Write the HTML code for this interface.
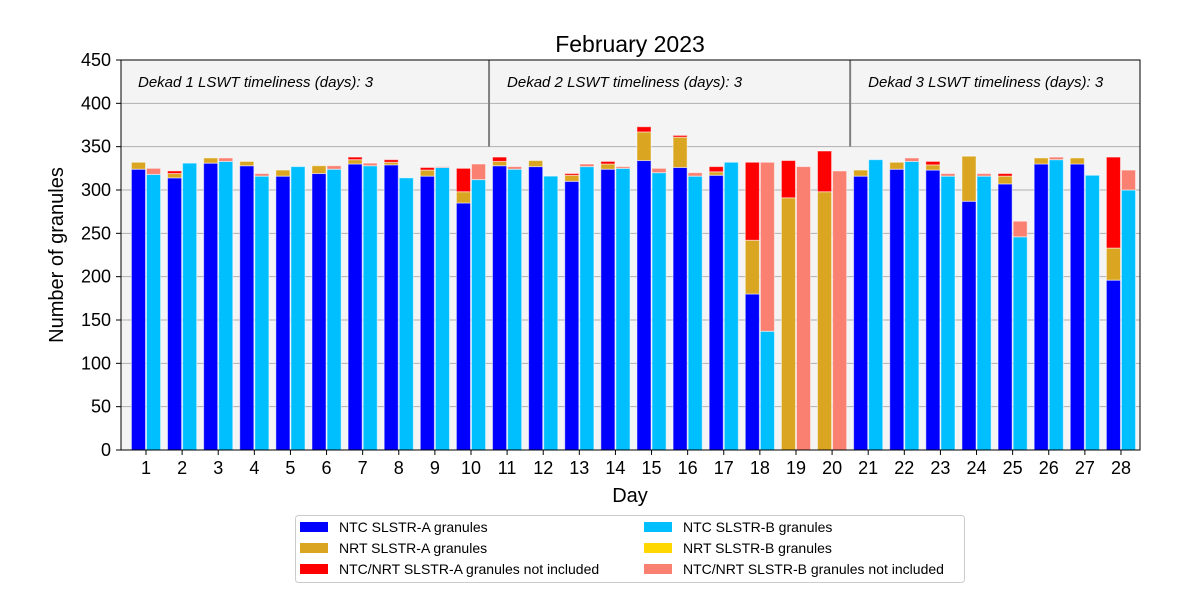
<!DOCTYPE html>
<html><head><meta charset="utf-8"><style>
body{margin:0;background:#fff;font-family:"Liberation Sans",sans-serif}
svg text{font-family:"Liberation Sans",sans-serif}
</style></head><body>
<svg id="c" width="1200" height="600" xmlns="http://www.w3.org/2000/svg">
<rect x="121" y="60" width="1019" height="390" fill="#f4f4f4"/>
<g id="grid"></g><g id="bars"></g><g id="axes"></g>
<text x="630" y="52" font-size="23" text-anchor="middle">February 2023</text>
<text x="630" y="502" font-size="20" text-anchor="middle">Day</text>
<text transform="translate(63,255) rotate(-90)" font-size="20" text-anchor="middle">Number of granules</text>
<g id="legend"></g>
</svg>
<script>
const days=[1,2,3,4,5,6,7,8,9,10,11,12,13,14,15,16,17,18,19,20,21,22,23,24,25,26,27,28];
const ntcA=[324,314,331,328,316,319,330,329,316,285,328,327,310,324,334,326,317,180,0,0,316,324,323,287,307,330,330,196];
const nrtA=[8,5,6,5,7,9,5,3,7,13,5,7,7,6,33,35,4,62,291,298,7,8,6,52,9,7,7,37];
const missA=[0,3,0,0,0,0,3,3,3,27,5,0,2,3,6,2,6,90,43,47,0,0,4,0,3,0,0,105];
const ntcB=[318,331,333,316,327,324,328,314,326,312,324,316,327,325,320,316,332,137,0,0,335,333,316,316,246,335,317,300];
const nrtB=[0,0,0,0,0,0,0,0,0,0,0,0,0,0,0,0,0,0,0,0,0,0,0,0,0,0,0,0];
const missB=[7,0,4,3,0,4,3,0,1,18,3,0,3,2,5,4,0,195,327,322,0,4,3,3,18,3,0,23];
const yTicks=[0,50,100,150,200,250,300,350,400,450];
const dekads=["Dekad 1 LSWT timeliness (days): 3","Dekad 2 LSWT timeliness (days): 3","Dekad 3 LSWT timeliness (days): 3"];
const NS="http://www.w3.org/2000/svg";
const X=d=>146+(d-1)*36.11, Y=v=>450-v*390/450;
function mk(tag,attrs,parent,txt){const e=document.createElementNS(NS,tag);for(const k in attrs)e.setAttribute(k,attrs[k]);if(txt!==undefined)e.textContent=txt;parent.appendChild(e);return e;}
const grid=document.getElementById('grid'),bars=document.getElementById('bars'),axes=document.getElementById('axes'),leg=document.getElementById('legend');
yTicks.forEach(t=>{
 if(t>0&&t<450){const l=mk('line',{x1:121,x2:1140,y1:Y(t),y2:Y(t),stroke:'#b0b0b0','stroke-width':1},grid);
 
 }
 mk('line',{x1:116,x2:121,y1:Y(t),y2:Y(t),stroke:'#000'},axes);
 const tx=mk('text',{x:111,y:Y(t)+6,'font-size':18,'text-anchor':'end'},axes,t);
 
 
});
[10.5,20.5].forEach(d=>{const l=mk('line',{x1:X(d),x2:X(d),y1:60,y2:Y(350),stroke:'#808080','stroke-width':2},grid);
 
 });
[1,10.5,20.5].forEach((d,i)=>{const t=mk('text',{x:i==0?138:X(d)+18,y:87,'font-size':15,'font-style':'italic'},grid,dekads[i]);
 
 });
const w=0.39*36.11;
function seg(x,v0,v1,col,name){if(v1<=v0)return;const r=mk('rect',{x:x,y:Y(v1),width:w,height:Y(v0)-Y(v1),fill:col,stroke:'#ffffff','stroke-opacity':0.5,'stroke-width':1},bars);
 
 }
days.forEach((d,i)=>{
 const xa=X(d)-w-0.5, xb=X(d)+0.5;
 seg(xa,0,ntcA[i],'#0000ff','bar-ntc-a');
 seg(xa,ntcA[i],ntcA[i]+nrtA[i],'#daa520','bar-nrt-a');
 seg(xa,ntcA[i]+nrtA[i],ntcA[i]+nrtA[i]+missA[i],'#ff0000','bar-missing-a');
 seg(xb,0,ntcB[i],'#00bfff','bar-ntc-b');
 seg(xb,ntcB[i],ntcB[i]+nrtB[i],'#ffd700','bar-nrt-b');
 seg(xb,ntcB[i]+nrtB[i],ntcB[i]+nrtB[i]+missB[i],'#fa8072','bar-missing-b');
 mk('line',{x1:X(d),x2:X(d),y1:450,y2:455,stroke:'#000'},axes);
 const t=mk('text',{x:X(d),y:474,'font-size':18,'text-anchor':'middle'},axes,d);
 
 
});
mk('rect',{x:121,y:60,width:1019,height:390,fill:'none',stroke:'#000','stroke-width':1},axes);
const lb=mk('rect',{x:295.5,y:515.5,width:669,height:67,fill:'#fff',stroke:'#ccc',rx:3},leg);


const items=[['NTC SLSTR-A granules','#0000ff'],['NRT SLSTR-A granules','#daa520'],['NTC/NRT SLSTR-A granules not included','#ff0000'],['NTC SLSTR-B granules','#00bfff'],['NRT SLSTR-B granules','#ffd700'],['NTC/NRT SLSTR-B granules not included','#fa8072']];
items.forEach((it,i)=>{const cx=i<3?300:644, cy=522+(i%3)*21;
 const g=mk('g',{},leg);
 
 
 mk('rect',{x:cx,y:cy,width:28,height:10,fill:it[1]},g);
 mk('text',{x:cx+39,y:cy+10,'font-size':14},g,it[0]);});
</script>
</body></html>
